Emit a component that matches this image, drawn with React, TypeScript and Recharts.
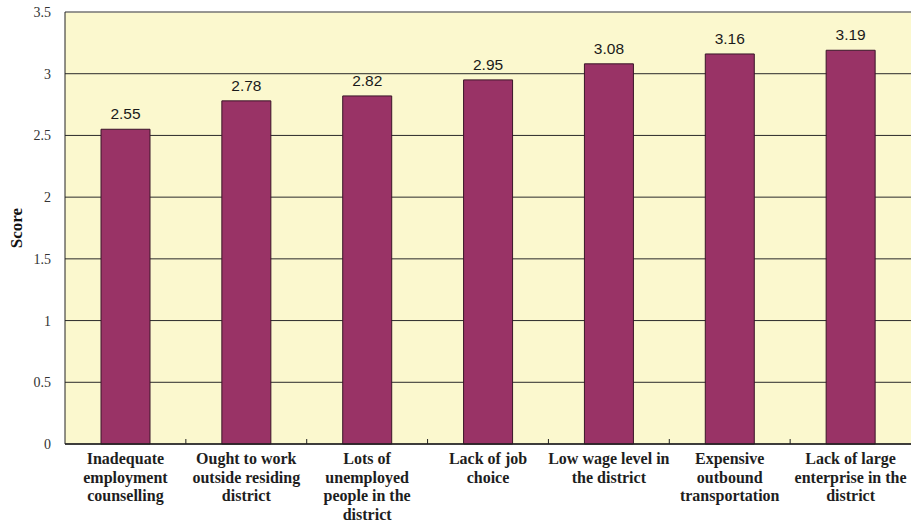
import React from 'react';
import {
  BarChart,
  Bar,
  XAxis,
  YAxis,
  CartesianGrid,
  LabelList,
  ReferenceLine,
} from 'recharts';

const categories = [
  ['Inadequate', 'employment', 'counselling'],
  ['Ought to work', 'outside residing', 'district'],
  ['Lots of', 'unemployed', 'people in the', 'district'],
  ['Lack of job', 'choice'],
  ['Low wage level in', 'the district'],
  ['Expensive', 'outbound', 'transportation'],
  ['Lack of large', 'enterprise in the', 'district'],
];
const scores = [2.55, 2.78, 2.82, 2.95, 3.08, 3.16, 3.19];
const yTicks = [0, 0.5, 1, 1.5, 2, 2.5, 3, 3.5];

const data = categories.map((lines, i) => ({
  name: lines.join(' '),
  score: scores[i],
}));

const serif = '"Liberation Serif", "Times New Roman", serif';
const sans = '"Liberation Sans", Arial, sans-serif';

// multi-line category label plus a small inward tick at the right edge of the band
const CategoryTick = ({ x, y, payload, width, visibleTicksCount }: any) => {
  const lines = categories[payload.index] ?? [payload.value];
  const band = width / visibleTicksCount;
  const edge = x + band / 2;
  const isLast = payload.index >= visibleTicksCount - 1;
  return (
    <g>
      {!isLast && <line x1={edge} x2={edge} y1={y} y2={y - 5} stroke="#222" />}
      <text x={x} y={y} textAnchor="middle" fontFamily={serif} fontWeight="bold" fontSize={16} fill="#1e1e1e">
        {lines.map((l: string, i: number) => (
          <tspan key={i} x={x} dy={i === 0 ? 20 : 18.5}>
            {l}
          </tspan>
        ))}
      </text>
    </g>
  );
};

const ScoreLabel = ({ viewBox }: any) => {
  const cx = 16;
  const cy = viewBox.y + viewBox.height / 2;
  return (
    <text
      x={cx}
      y={cy}
      transform={`rotate(-90, ${cx}, ${cy})`}
      textAnchor="middle"
      dominantBaseline="central"
      fontFamily={serif}
      fontWeight="bold"
      fontSize={17}
      fill="#111"
    >
      Score
    </text>
  );
};

export default function App() {
  return (
    <div style={{ position: 'absolute', left: 0, top: 0, background: '#fff' }}>
      <BarChart width={917} height={525} data={data} margin={{ top: 12, right: 6, bottom: 0, left: 0 }}>
        <CartesianGrid vertical={false} stroke="#2a2a2a" fill="#FBF8CE" fillOpacity={1} />
        <XAxis
          dataKey="name"
          interval={0}
          height={81}
          tickLine={false}
          tickSize={0}
          tickMargin={0}
          tick={<CategoryTick />}
          axisLine={{ stroke: '#222', strokeWidth: 1.5 }}
        />
        <YAxis
          domain={[0, 3.5]}
          ticks={yTicks}
          width={65}
          tickLine={false}
          tickSize={12}
          axisLine={{ stroke: '#222' }}
          tick={{ fontFamily: serif, fontSize: 14, fill: '#333' }}
          label={<ScoreLabel />}
        />
        <YAxis yAxisId="frame" orientation="right" width={0} tick={false} tickLine={false} axisLine={{ stroke: '#999' }} />
        <ReferenceLine y={3.5} stroke="#999" />
        <Bar dataKey="score" fill="#993366" stroke="#3a1628" strokeWidth={1} barSize={49} isAnimationActive={false}>
          <LabelList
            dataKey="score"
            position="top"
            offset={10}
            formatter={(v: any) => Number(v).toFixed(2)}
            style={{ fontFamily: sans, fontSize: 15.5, fill: '#1a1a1a' }}
          />
        </Bar>
      </BarChart>
    </div>
  );
}
